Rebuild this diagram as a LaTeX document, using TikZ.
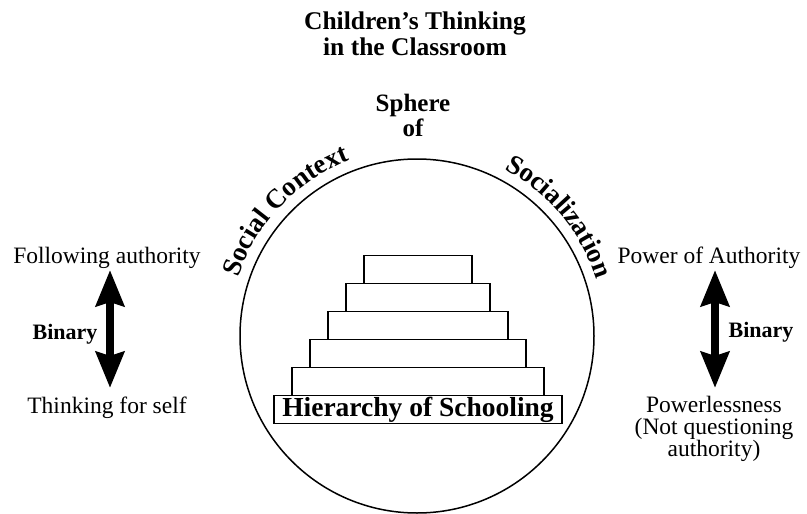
\documentclass[tikz,border=0pt]{standalone}
\usepackage{fontspec}
\setmainfont{Liberation Serif}
\usetikzlibrary{arrows.meta,decorations.text}
\begin{document}
\begin{tikzpicture}[x=1pt,y=-1pt,
  step box/.style={draw,line width=1.5pt,minimum width=#1,minimum height=28pt,inner sep=0pt},
  plain text/.style={font=\fontsize{23.5}{23.5}\selectfont,inner sep=0pt,anchor=base},
  bold text/.style={font=\fontsize{22}{22}\bfseries\selectfont,inner sep=0pt},
  binary arrow/.style={line width=8pt,{Stealth[length=36pt,width=28pt,inset=4pt]}-{Stealth[length=36pt,width=28pt,inset=4pt]}},
  curved/.style={decorate,decoration={text along path,text align=center,
     text={|\fontsize{27}{27}\bfseries\selectfont|#1}}}
]
\useasboundingbox (0,0) rectangle (807,514);

% title
\node[font=\fontsize{25.5}{27}\bfseries\selectfont,align=center,anchor=base] (title) at (415,56) {Children’s Thinking\\in the Classroom};
\node[font=\fontsize{25}{25}\bfseries\selectfont,align=center,anchor=base] (sphere) at (413,136) {Sphere\\of};

% circle
\node[draw,circle,line width=1.5pt,minimum size=354pt,inner sep=0pt] (ring) at (417,336) {};

% curved labels
\path[curved={Social Context}] ([shift={(-169:188)}]ring.center) arc[start angle=-169,end angle=-104,radius=188];
\path[curved={Socialization}] ([shift={(-72:188)}]ring.center) arc[start angle=-72,end angle=-8,radius=188];

% pyramid
\node[step box=108pt] (s1) at (418,269.5) {};
\node[step box=144pt] (s2) at (418,297.5) {};
\node[step box=180pt] (s3) at (418,325.5) {};
\node[step box=216pt] (s4) at (418,353.5) {};
\node[step box=252pt] (s5) at (418,381.5) {};
\node[draw,line width=1.2pt,minimum width=288pt,minimum height=28pt,inner sep=0pt,
      font=\fontsize{27.5}{27.5}\bfseries\selectfont] (hs) at (418,409.5) {Hierarchy of Schooling};

% left binary
\node[plain text] (fa) at (107,263) {Following authority};
\node[plain text] (tf) at (107,413) {Thinking for self};
\node[bold text] (lb) at (65,334) {Binary};
\coordinate (la1) at (110,270);
\coordinate (la2) at (110,388);
\draw[binary arrow] (la1) -- (la2);

% right binary
\node[plain text] (pa) at (709,263) {Power of Authority};
\node[font=\fontsize{23.5}{22}\selectfont,align=center,inner sep=0pt,anchor=base] (pl) at (714,456) {Powerlessness\\(Not questioning\\authority)};
\node[bold text] (rb) at (761,332) {Binary};
\coordinate (ra1) at (715,270);
\coordinate (ra2) at (715,388);
\draw[binary arrow] (ra1) -- (ra2);
\end{tikzpicture}
\end{document}
